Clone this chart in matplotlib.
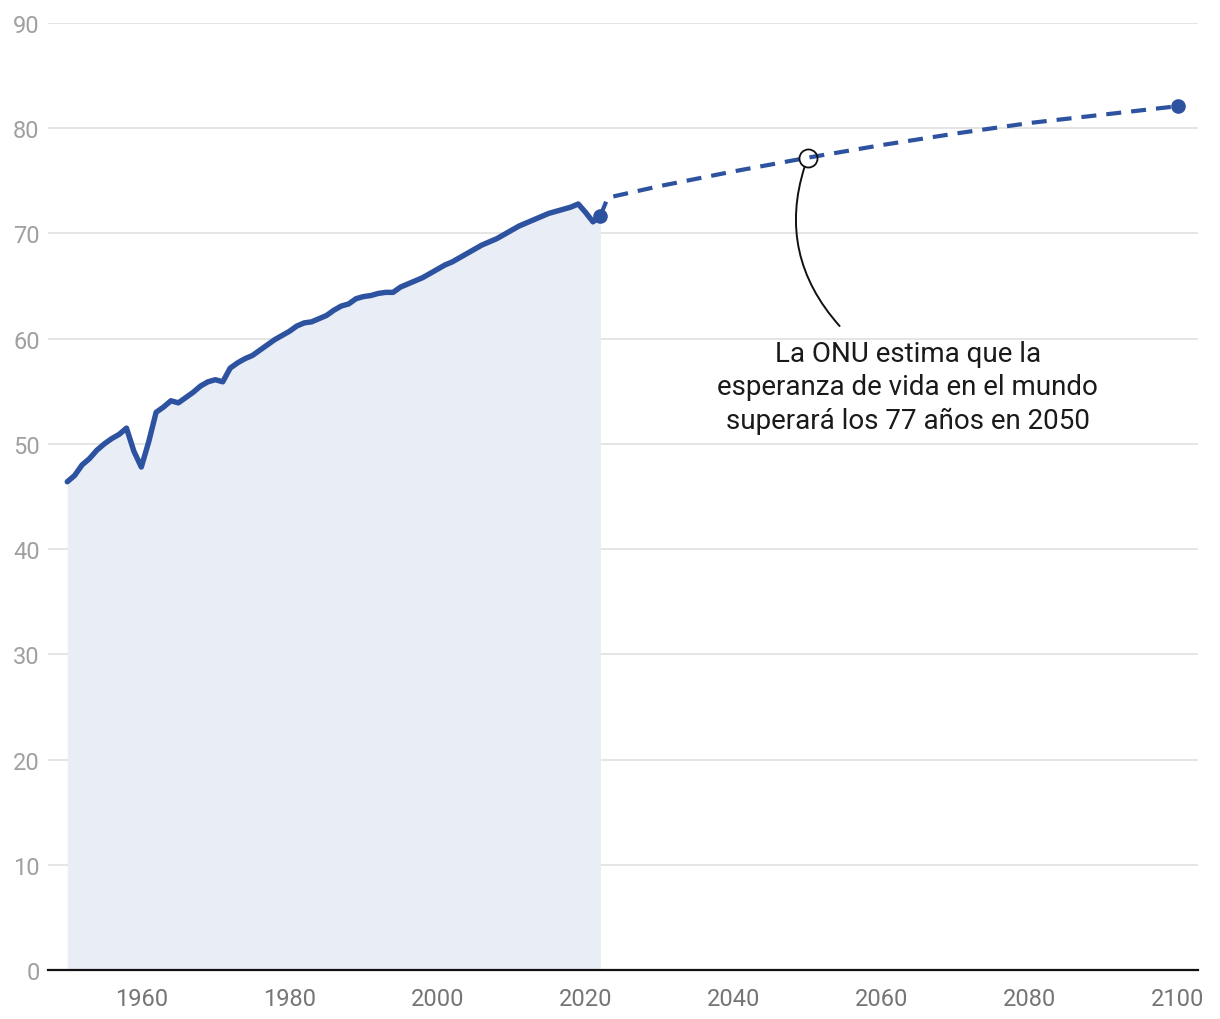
import matplotlib.pyplot as plt
import numpy as np

plt.rcParams['font.family'] = ['Roboto', 'DejaVu Sans']

# historical life expectancy (world)
years_hist = list(range(1950, 2023))
life_hist = [46.4, 47.0, 48.0, 48.6, 49.4, 50.0, 50.5, 50.9, 51.5, 49.3,
             47.8, 50.2, 53.0, 53.5, 54.1, 53.9, 54.4, 54.9, 55.5, 55.9,
             56.1, 55.9, 57.2, 57.7, 58.1, 58.4, 58.9, 59.4, 59.9, 60.3,
             60.7, 61.2, 61.5, 61.6, 61.9, 62.2, 62.7, 63.1, 63.3, 63.8,
             64.0, 64.1, 64.3, 64.4, 64.4, 64.9, 65.2, 65.5, 65.8, 66.2,
             66.6, 67.0, 67.3, 67.7, 68.1, 68.5, 68.9, 69.2, 69.5, 69.9,
             70.3, 70.7, 71.0, 71.3, 71.6, 71.9, 72.1, 72.3, 72.5, 72.8,
             72.0, 71.1, 71.7]

# UN projection
years_proj = [2022, 2023, 2030, 2040, 2050, 2060, 2070, 2080, 2090, 2100]
life_proj = [71.7, 73.4, 74.5, 75.9, 77.2, 78.4, 79.5, 80.5, 81.3, 82.1]

note_year = 2050
note_value = 77.2
note_text = "La ONU estima que la\nesperanza de vida en el mundo\nsuperará los 77 años en 2050"

blue = '#2D52A0'
fill_col = '#E8EDF6'

fig = plt.figure(figsize=(12.2, 10.2), dpi=100)
ax = fig.add_axes([48 / 1220, 49 / 1020, (1198 - 48) / 1220, 947 / 1020])

ax.fill_between(years_hist, life_hist, 0, color=fill_col, lw=0, zorder=1)
ax.plot(years_hist, life_hist, color=blue, lw=3.9, solid_capstyle='round',
        solid_joinstyle='round', zorder=3)
ax.plot(years_proj, life_proj, color=blue, lw=3.0, dashes=(3.6, 2.4), zorder=3)
ax.plot([years_hist[-1], years_proj[-1]], [life_hist[-1], life_proj[-1]], 'o',
        color=blue, ms=9.5, zorder=4)

# annotation
ax.plot([note_year], [note_value], 'o', ms=13, mfc='none', mec='#111111', mew=1.3, zorder=5)
ax.annotate('', xy=(note_year, note_value), xytext=(2054.3, 61.2),
            arrowprops=dict(arrowstyle='-', color='#111111', lw=1.4,
                            connectionstyle='arc3,rad=-0.3', shrinkA=0, shrinkB=7))
ax.text(2063.5, 59.9, note_text, ha='center', va='top', fontsize=20,
        color='#1a1a1a', linespacing=1.3)

ax.set_xlim(1947.4, 2102.7)
ax.set_ylim(0, 90)
ax.set_yticks(np.arange(0, 91, 10))
ax.set_xticks(np.arange(1960, 2101, 20))
ax.grid(axis='y', color='#E0E0E0', lw=1.2, zorder=0)
ax.set_axisbelow(True)
for s in ['top', 'right', 'left']:
    ax.spines[s].set_visible(False)
ax.spines['bottom'].set_color('#111111')
ax.spines['bottom'].set_linewidth(1.6)
ax.spines['bottom'].set_zorder(6)
ax.tick_params(axis='y', length=0, pad=6, labelsize=17, labelcolor='#A0A0A0')
ax.tick_params(axis='x', length=0, pad=12, labelsize=17, labelcolor='#757575')

fig.savefig('out.png', dpi=100)
